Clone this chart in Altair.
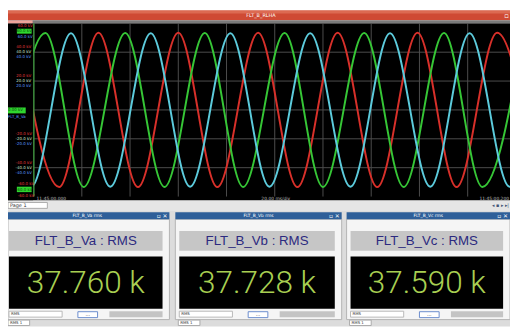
import altair as alt
import pandas as pd

# ---------------- data ----------------
phases = ["Va", "Vb", "Vc"]
trace_colors = ["#d8302a", "#36c636", "#5ccbdc"]
peak_kv = [53.40, 53.36, 53.16]
# crest / trough times (ms) of each phase, 20 ms per division
va_peaks = [-6.1, 26.9, 60.0, 93.1, 126.1, 159.2, 192.2]
va_troughs = [10.6, 43.3, 76.2, 109.4, 142.5, 175.4, 208.8]
vb_peaks = [4.9, 38.0, 71.0, 104.1, 137.1, 170.2, 203.3]
vb_troughs = [-11.6, 20.8, 54.3, 86.9, 120.0, 153.5, 186.1]
vc_peaks = [-17.6, 15.5, 48.6, 81.6, 114.7, 147.8, 180.8, 213.9]
vc_troughs = [-1.0, 31.8, 64.9, 97.8, 131.4, 164.5, 197.4]

grid_ms = [20, 40, 60, 80, 100, 120, 140, 160, 180]
grid_kv = [40, 20, 0, -20, -40]
scale_kv = [40, 20, -20, -40]

meter_names = ["FLT_B_Va", "FLT_B_Vb", "FLT_B_Vc"]
meter_rms_k = [37.760, 37.728, 37.590]
time_labels = ["11:45:00.000", "20.00 ms/div", "11:45:00.200"]

# ---------------- layout (page pixels, page margin 8) ----------------
OFF = 8


def px(v):
    return max(0.0, v - OFF)


XS = alt.Scale(domain=[0, 200], range=[px(34), px(524)], nice=False, zero=False)
YS = alt.Scale(domain=[-60, 60], range=[px(197), px(21)], nice=False, zero=False)

# waveform table
rows = []
for ph, amp, pk, tr in [
    ("Va", peak_kv[0], va_peaks, va_troughs),
    ("Vb", peak_kv[1], vb_peaks, vb_troughs),
    ("Vc", peak_kv[2], vc_peaks, vc_troughs),
]:
    for t in pk:
        rows.append({"phase": ph, "t": t, "kv": amp})
    for t in tr:
        rows.append({"phase": ph, "t": t, "kv": -amp})
wave_df = pd.DataFrame(rows).sort_values(["phase", "t"])

vgrid_df = pd.DataFrame({"t": grid_ms, "lo": -60, "hi": 60})
hgrid_df = pd.DataFrame({"kv": grid_kv, "a": 0, "b": 200})
lab_df = pd.DataFrame({"kv": scale_kv, "label": [f"{v:.1f} kV" for v in scale_kv]})


def rect(x1, y1, x2, y2, fill, stroke="transparent"):
    return {"x": px(x1), "y": px(y1), "x2": px(x2), "y2": px(y2), "fill": fill, "stroke": stroke}


under = [rect(5, 21, 518, 201, "#000000")]

over = [
    rect(5, 21, 33.5, 201, "#000000"),
    rect(33.5, 21, 35, 197, "#3f8f3f"),
    rect(5, 8, 518, 18, "#cf4a34"),
    rect(5, 8, 518, 11, "#dc6a52"),
    rect(5, 18, 518, 21, "#7a7a7a"),
    rect(5, 18, 33, 21, "#eea49a"),
    rect(17, 26.5, 32, 31.5, "#2fd62f"),
    rect(5, 106.5, 26, 112.5, "#2fd62f"),
    rect(17, 187, 32, 192.5, "#2fd62f"),
    rect(5, 201, 518, 211, "#e5e5e5"),
    rect(8, 203, 48, 209, "#ffffff", "#aaaaaa"),
    rect(5, 211, 518, 329, "#dcdcdc"),
]
panels = [(5, 172), (178, 347), (352, 518)]
for a, b in panels:
    over += [
        rect(a, 220, b, 322, "#f5f5f5", "#b4b4b4"),
        rect(a, 213, b, 220, "#2e5f99"),
        rect(a + 4, 232, b - 7, 252, "#c6c6c6"),
        rect(a + 4, 258, b - 7, 311, "#000000"),
        rect(a + 4, 313.5, a + 58, 319.5, "#ffffff", "#b8b8b8"),
        rect(a + 74, 314, a + 94, 320, "#ffffff", "#6a8ccc"),
        rect(a + 106, 313.5, b - 7, 319.5, "#c4c4c4"),
        rect(a + 3, 322.5, a + 25, 328, "#ffffff", "#aaaaaa"),
    ]
under_df = pd.DataFrame(under)
over_df = pd.DataFrame(over)

small_c = [
    {"x": px(265), "y": px(13), "text": "FLT_B_RLHA", "c": "#ffffff", "s": 5},
    {"x": px(280), "y": px(199), "text": time_labels[1], "c": "#bbbbbb", "s": 4.5},
    {"x": px(24.5), "y": px(29), "text": "60.0 kV", "c": "#0a4a0a", "s": 4},
    {"x": px(24.5), "y": px(190), "text": "-60.0 kV", "c": "#0a4a0a", "s": 4},
    {"x": px(15.5), "y": px(109.5), "text": "0.00 kV", "c": "#0a4a0a", "s": 4},
]
small_l = [
    {"x": px(37), "y": px(199), "text": time_labels[0], "c": "#bbbbbb", "s": 4.5},
    {"x": px(10), "y": px(206), "text": "Page 1", "c": "#333333", "s": 5},
    {"x": px(6), "y": px(116), "text": "FLT_B_Va", "c": "#5c9cff", "s": 4},
    {"x": px(18), "y": px(24), "text": "60.0 kV", "c": "#e03a3a", "s": 4},
    {"x": px(18), "y": px(35), "text": "60.0 kV", "c": "#5c9cff", "s": 4},
    {"x": px(18), "y": px(184), "text": "-60.0 kV", "c": "#e03a3a", "s": 4},
    {"x": px(18), "y": px(196), "text": "-60.0 kV", "c": "#e03a3a", "s": 4},
]
small_r = [
    {"x": px(517), "y": px(199), "text": time_labels[2], "c": "#bbbbbb", "s": 4.5},
    {"x": px(517), "y": px(13.5), "text": "▫", "c": "#ffffff", "s": 7},
    {"x": px(517), "y": px(206), "text": "◂ ▪ ▸ ▸|", "c": "#445577", "s": 5},
]
for (a, b), name in zip(panels, meter_names):
    small_c.append({"x": px((a + b) / 2), "y": px(216.5), "text": name + " rms", "c": "#ffffff", "s": 4.5})
    small_r.append({"x": px(b - 2), "y": px(217), "text": "▫ ✕", "c": "#ffffff", "s": 6})
    small_l.append({"x": px(a + 6), "y": px(316.8), "text": "RMS", "c": "#333333", "s": 4})
    small_c.append({"x": px(a + 84), "y": px(316.5), "text": "...", "c": "#333333", "s": 5})
    small_l.append({"x": px(a + 5), "y": px(325.5), "text": "RMS 1", "c": "#333333", "s": 4})

meter_df = pd.DataFrame({
    "x": [px((a + b - 3) / 2) for a, b in panels],
    "name": [f"{n} : RMS" for n in meter_names],
    "value": [f"{v:.3f} k" for v in meter_rms_k],
    "ly": px(242.5),
    "vy": px(284.5),
})


def rect_layer(df):
    return alt.Chart(df).mark_rect(strokeWidth=1).encode(
        x=alt.X("x:Q", scale=None, axis=None),
        x2="x2:Q",
        y=alt.Y("y:Q", scale=None, axis=None),
        y2="y2:Q",
        color=alt.Color("fill:N", scale=None, legend=None),
        stroke=alt.Stroke("stroke:N", scale=None, legend=None),
    )


def text_layer(rows_, align):
    return alt.Chart(pd.DataFrame(rows_)).mark_text(
        align=align, baseline="middle", font="DejaVu Sans"
    ).encode(
        x=alt.X("x:Q", scale=None, axis=None),
        y=alt.Y("y:Q", scale=None, axis=None),
        text="text:N",
        color=alt.Color("c:N", scale=None, legend=None),
        size=alt.Size("s:Q", scale=None, legend=None),
    )


vgrid = alt.Chart(vgrid_df).mark_rule(color="#4e4e4e", strokeWidth=1).encode(
    x=alt.X("t:Q", scale=XS, axis=None),
    y=alt.Y("lo:Q", scale=YS, axis=None),
    y2="hi:Q",
)
hgrid = alt.Chart(hgrid_df).mark_rule(color="#4e4e4e", strokeWidth=1).encode(
    y=alt.Y("kv:Q", scale=YS, axis=None),
    x=alt.X("a:Q", scale=XS, axis=None),
    x2="b:Q",
)
waves = alt.Chart(wave_df).mark_line(interpolate="monotone", strokeWidth=2).encode(
    x=alt.X("t:Q", scale=XS, axis=None),
    y=alt.Y("kv:Q", scale=YS, axis=None),
    color=alt.Color("phase:N", scale=alt.Scale(domain=phases, range=trace_colors), legend=None),
)


def kv_labels(dy, color):
    return alt.Chart(lab_df).mark_text(
        align="center", baseline="middle", font="DejaVu Sans", fontSize=4, dy=dy, color=color
    ).encode(
        x=alt.value(px(24)),
        y=alt.Y("kv:Q", scale=YS, axis=None),
        text="label:N",
    )


meter_labels = alt.Chart(meter_df).mark_text(
    align="center", baseline="middle", font="Liberation Sans", fontSize=13.5, color="#2c2a80"
).encode(
    x=alt.X("x:Q", scale=None, axis=None),
    y=alt.Y("ly:Q", scale=None, axis=None),
    text="name:N",
)
meter_values = alt.Chart(meter_df).mark_text(
    align="center", baseline="middle", font="Roboto", fontWeight=300, fontSize=32, color="#a8cf52"
).encode(
    x=alt.X("x:Q", scale=None, axis=None),
    y=alt.Y("vy:Q", scale=None, axis=None),
    text="value:N",
)

chart = alt.layer(
    rect_layer(under_df),
    vgrid,
    hgrid,
    waves,
    rect_layer(over_df),
    kv_labels(-5, "#e03a3a"),
    kv_labels(0, "#cfe8cf"),
    kv_labels(5, "#5c9cff"),
    text_layer(small_c, "center"),
    text_layer(small_l, "left"),
    text_layer(small_r, "right"),
    meter_labels,
    meter_values,
).resolve_scale(
    x="independent", y="independent", color="independent", stroke="independent", size="independent"
).properties(
    width=510, height=321, autosize="none", padding=0
).configure_view(stroke=None)

chart.save("out.html", embed_options={"renderer": "svg", "actions": False})
